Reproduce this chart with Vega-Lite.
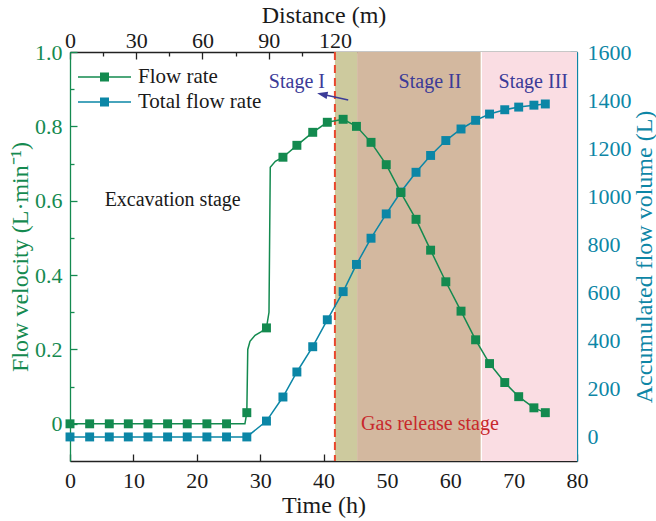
{
  "$schema": "https://vega.github.io/schema/vega-lite/v6.json",
  "width": 507,
  "height": 409,
  "autosize": {"type": "none"},
  "padding": {"left": 70, "top": 52, "right": 79, "bottom": 60},
  "background": "white",
  "datasets": {
    "stages": [
      {"stage": "I", "t0": 41.8, "t1": 45.3},
      {"stage": "II", "t0": 45.3, "t1": 64.9},
      {"stage": "III", "t0": 64.9, "t1": 80}
    ],
    "boundaries": [
      {"name": "release", "t": 41.8},
      {"name": "split", "t": 64.9}
    ],
    "rate": [
      {"t": 0, "q": 0, "mk": 1}, {"t": 3.1, "q": 0, "mk": 1}, {"t": 6.2, "q": 0, "mk": 1},
      {"t": 9.2, "q": 0, "mk": 1}, {"t": 12.3, "q": 0, "mk": 1}, {"t": 15.4, "q": 0, "mk": 1},
      {"t": 18.5, "q": 0, "mk": 1}, {"t": 21.6, "q": 0, "mk": 1}, {"t": 24.7, "q": 0, "mk": 1},
      {"t": 27.6, "q": 0, "mk": 0},
      {"t": 27.9, "q": 0.03, "mk": 1},
      {"t": 28.05, "q": 0.2, "mk": 0}, {"t": 28.4, "q": 0.222, "mk": 0},
      {"t": 29.2, "q": 0.238, "mk": 0}, {"t": 30.2, "q": 0.248, "mk": 0},
      {"t": 31.0, "q": 0.258, "mk": 1},
      {"t": 31.4, "q": 0.3, "mk": 0}, {"t": 31.6, "q": 0.69, "mk": 0}, {"t": 32.4, "q": 0.706, "mk": 0},
      {"t": 33.6, "q": 0.717, "mk": 1}, {"t": 35.8, "q": 0.749, "mk": 1}, {"t": 38.3, "q": 0.784, "mk": 1},
      {"t": 40.6, "q": 0.811, "mk": 1}, {"t": 43.1, "q": 0.819, "mk": 1}, {"t": 45.2, "q": 0.8, "mk": 1},
      {"t": 47.5, "q": 0.757, "mk": 1}, {"t": 49.9, "q": 0.697, "mk": 1}, {"t": 52.2, "q": 0.622, "mk": 1},
      {"t": 54.6, "q": 0.55, "mk": 1}, {"t": 56.9, "q": 0.467, "mk": 1}, {"t": 59.3, "q": 0.382, "mk": 1},
      {"t": 61.7, "q": 0.303, "mk": 1}, {"t": 64.0, "q": 0.226, "mk": 1}, {"t": 66.2, "q": 0.162, "mk": 1},
      {"t": 68.6, "q": 0.111, "mk": 1}, {"t": 70.8, "q": 0.073, "mk": 1}, {"t": 73.2, "q": 0.043, "mk": 1},
      {"t": 75.0, "q": 0.03, "mk": 1}
    ],
    "volume": [
      {"t": 0, "V": 0}, {"t": 3.1, "V": 0}, {"t": 6.2, "V": 0}, {"t": 9.2, "V": 0}, {"t": 12.3, "V": 0},
      {"t": 15.4, "V": 0}, {"t": 18.5, "V": 0}, {"t": 21.6, "V": 0}, {"t": 24.7, "V": 0}, {"t": 27.9, "V": 0},
      {"t": 31.0, "V": 66}, {"t": 33.6, "V": 166}, {"t": 35.8, "V": 270}, {"t": 38.3, "V": 375},
      {"t": 40.6, "V": 487}, {"t": 43.1, "V": 604}, {"t": 45.2, "V": 717}, {"t": 47.5, "V": 826},
      {"t": 49.9, "V": 927}, {"t": 52.2, "V": 1018}, {"t": 54.6, "V": 1100}, {"t": 56.9, "V": 1170},
      {"t": 59.3, "V": 1232}, {"t": 61.7, "V": 1280}, {"t": 64.0, "V": 1316}, {"t": 66.2, "V": 1342},
      {"t": 68.6, "V": 1360}, {"t": 70.8, "V": 1371}, {"t": 73.2, "V": 1379}, {"t": 75.0, "V": 1384}
    ],
    "notes": [
      {"t": 35.8, "q": 0.919, "label": "Stage I", "kind": "stage"},
      {"t": 56.8, "q": 0.919, "label": "Stage II", "kind": "stage"},
      {"t": 73.1, "q": 0.919, "label": "Stage III", "kind": "stage"},
      {"t": 16.2, "q": 0.603, "label": "Excavation stage", "kind": "plain"},
      {"t": 56.8, "q": 0.0, "label": "Gas release stage", "kind": "release"}
    ],
    "pointer": [
      {"t": 43.9, "q": 0.871, "t2": 39.8, "q2": 0.8862}
    ],
    "distance": [
      {"d": 0}, {"d": 120}
    ]
  },
  "layer": [
    {
      "layer": [
        {
          "data": {"name": "stages"},
          "mark": {"type": "rect"},
          "encoding": {
            "x": {
              "field": "t0", "type": "quantitative", "title": "Time (h)",
              "scale": {"domain": [0, 80], "nice": false, "zero": false},
              "axis": {
                "orient": "bottom",
                "values": [0, 5, 10, 15, 20, 25, 30, 35, 40, 45, 50, 55, 60, 65, 70, 75, 80],
                "format": "d",
                "labelExpr": "datum.value % 10 === 0 ? datum.label : ''",
                "tickSize": {"expr": "datum.value % 10 === 0 ? -7 : -4"},
                "labelPadding": 16,
                "titlePadding": 2,
                "domainColor": "#222222",
                "tickColor": "#222222",
                "labelColor": "#1a1a1a",
                "titleColor": "#1a1a1a"
              }
            },
            "x2": {"field": "t1"},
            "fill": {
              "field": "stage", "type": "nominal",
              "scale": {"domain": ["I", "II", "III"], "range": ["#cdca9e", "#d3b89f", "#fadde3"]},
              "legend": null
            }
          }
        },
        {
          "data": {"name": "boundaries"},
          "transform": [{"filter": "datum.name === 'split'"}],
          "mark": {"type": "rule", "color": "#ffffff", "strokeWidth": 1.3},
          "encoding": {"x": {"field": "t", "type": "quantitative", "title": "Time (h)"}}
        },
        {
          "data": {"name": "boundaries"},
          "transform": [{"filter": "datum.name === 'release'"}],
          "mark": {"type": "rule", "color": "#e8472d", "strokeWidth": 2, "strokeDash": [8, 5]},
          "encoding": {"x": {"field": "t", "type": "quantitative", "title": "Time (h)"}}
        },
        {
          "data": {"name": "volume"},
          "encoding": {
            "x": {"field": "t", "type": "quantitative", "title": "Time (h)"},
            "y": {
              "field": "V", "type": "quantitative", "title": "Accumulated flow volume (L)",
              "scale": {"domain": [-100, 1600], "nice": false, "zero": false},
              "axis": {
                "orient": "right",
                "values": [0, 100, 200, 300, 400, 500, 600, 700, 800, 900, 1000, 1100, 1200, 1300, 1400, 1500, 1600],
                "labelExpr": "datum.value % 200 === 0 ? format(datum.value, 'd') : ''",
                "tickSize": {"expr": "datum.value % 200 === 0 ? -7 : -4"},
                "labelPadding": 17,
                "titleAngle": 270,
                "titleBaseline": "top",
                "titlePadding": 1,
                "domainColor": "#0d86a6",
                "tickColor": "#0d86a6",
                "labelColor": "#0d86a6",
                "titleColor": "#0d86a6"
              }
            }
          },
          "layer": [
            {"mark": {"type": "line", "color": "#0b86a6", "strokeWidth": 1.5}},
            {
              "mark": {"type": "point", "shape": "square", "filled": true, "size": 80, "opacity": 1},
              "encoding": {
                "color": {
                  "datum": "Total flow rate", "type": "nominal",
                  "scale": {"domain": ["Flow rate", "Total flow rate"], "range": ["#138a4f", "#0b86a6"]},
                  "legend": {
                    "title": null,
                    "orient": "none",
                    "legendX": 7,
                    "legendY": 12.5,
                    "padding": 0,
                    "rowPadding": 0,
                    "clipHeight": 25,
                    "symbolType": "M-1,-0.028H1V0.028H-1ZM-0.17,-0.17H0.17V0.17H-0.17Z",
                    "symbolSize": 2809,
                    "labelOffset": 6,
                    "labelFont": "Liberation Serif",
                    "labelFontSize": 21,
                    "labelColor": "#1a1a1a",
                    "labelLimit": 300
                  }
                }
              }
            }
          ]
        },
        {
          "data": {"name": "rate"},
          "encoding": {
            "x": {"field": "t", "type": "quantitative", "title": "Time (h)"},
            "y": {
              "field": "q", "type": "quantitative", "title": "Flow velocity (L·min⁻¹)",
              "scale": {"domain": [-0.1, 1], "nice": false, "zero": false},
              "axis": {
                "orient": "left",
                "values": [0, 0.1, 0.2, 0.3, 0.4, 0.5, 0.6, 0.7, 0.8, 0.9, 1],
                "labelExpr": "round(datum.value * 10) % 2 === 0 ? (datum.value === 0 ? '0' : format(datum.value, '.1f')) : ''",
                "tickSize": {"expr": "round(datum.value * 10) % 2 === 0 ? -7 : -4"},
                "labelPadding": 15,
                "titlePadding": 2,
                "domainColor": "#158a50",
                "tickColor": "#158a50",
                "labelColor": "#158a50",
                "titleColor": "#158a50"
              }
            }
          },
          "layer": [
            {"mark": {"type": "line", "color": "#138a4f", "strokeWidth": 1.5}},
            {
              "transform": [{"filter": "datum.mk === 1"}],
              "mark": {"type": "point", "shape": "square", "filled": true, "size": 80, "opacity": 1},
              "encoding": {
                "color": {
                  "datum": "Flow rate", "type": "nominal",
                  "scale": {"domain": ["Flow rate", "Total flow rate"], "range": ["#138a4f", "#0b86a6"]},
                  "legend": {
                    "title": null,
                    "orient": "none",
                    "legendX": 7,
                    "legendY": 12.5,
                    "padding": 0,
                    "rowPadding": 0,
                    "clipHeight": 25,
                    "symbolType": "M-1,-0.028H1V0.028H-1ZM-0.17,-0.17H0.17V0.17H-0.17Z",
                    "symbolSize": 2809,
                    "labelOffset": 6,
                    "labelFont": "Liberation Serif",
                    "labelFontSize": 21,
                    "labelColor": "#1a1a1a",
                    "labelLimit": 300
                  }
                }
              }
            },
            {
              "data": {"name": "notes"},
              "transform": [{"filter": "datum.kind === 'stage'"}],
              "mark": {"type": "text", "font": "Liberation Serif", "fontSize": 20, "color": "#3b3b98", "align": "center", "baseline": "middle"},
              "encoding": {"text": {"field": "label"}}
            },
            {
              "data": {"name": "notes"},
              "transform": [{"filter": "datum.kind === 'plain'"}],
              "mark": {"type": "text", "font": "Liberation Serif", "fontSize": 20, "color": "#1a1a1a", "align": "center", "baseline": "middle"},
              "encoding": {"text": {"field": "label"}}
            },
            {
              "data": {"name": "notes"},
              "transform": [{"filter": "datum.kind === 'release'"}],
              "mark": {"type": "text", "font": "Liberation Serif", "fontSize": 20, "color": "#c8282c", "align": "center", "baseline": "middle"},
              "encoding": {"text": {"field": "label"}}
            },
            {
              "data": {"name": "pointer"},
              "mark": {"type": "rule", "color": "#3b3b98", "strokeWidth": 1.5},
              "encoding": {
                "x2": {"field": "t2"},
                "y2": {"field": "q2"}
              }
            },
            {
              "data": {"name": "pointer"},
              "mark": {"type": "point", "shape": "M0,-1L0.7,1L-0.7,1Z", "filled": true, "size": 110, "angle": 282, "color": "#3b3b98", "opacity": 1},
              "encoding": {
                "x": {"field": "t2", "type": "quantitative", "title": "Time (h)"},
                "y": {"field": "q2", "type": "quantitative", "title": "Flow velocity (L·min⁻¹)"}
              }
            }
          ]
        }
      ],
      "resolve": {"scale": {"y": "independent"}, "axis": {"y": "independent"}}
    },
    {
      "data": {"name": "distance"},
      "mark": {"type": "point", "opacity": 0},
      "encoding": {
        "x": {
          "field": "d", "type": "quantitative", "title": "Distance (m)",
          "scale": {"domain": [0, 229.67], "nice": false, "zero": false},
          "axis": {
            "orient": "top",
            "values": [0, 15, 30, 45, 60, 75, 90, 105, 120],
            "format": "d",
            "labelExpr": "datum.value % 30 === 0 ? datum.label : ''",
            "tickSize": {"expr": "datum.value % 30 === 0 ? -7 : -4"},
            "labelPadding": 7,
            "titlePadding": -1,
            "domainColor": "#222222",
            "tickColor": "#222222",
            "labelColor": "#1a1a1a",
            "titleColor": "#1a1a1a"
          }
        }
      }
    }
  ],
  "resolve": {"scale": {"x": "independent"}, "axis": {"x": "independent"}},
  "config": {
    "view": {"stroke": null},
    "font": "Liberation Serif",
    "axis": {
      "grid": false,
      "labelFont": "Liberation Serif",
      "titleFont": "Liberation Serif",
      "labelFontSize": 22,
      "titleFontSize": 24,
      "titleFontWeight": "normal",
      "domainWidth": 1.3,
      "tickWidth": 1.3,
      "labelFlush": false,
      "labelOverlap": false
    },
    "legend": {"padding": 0}
  }
}
